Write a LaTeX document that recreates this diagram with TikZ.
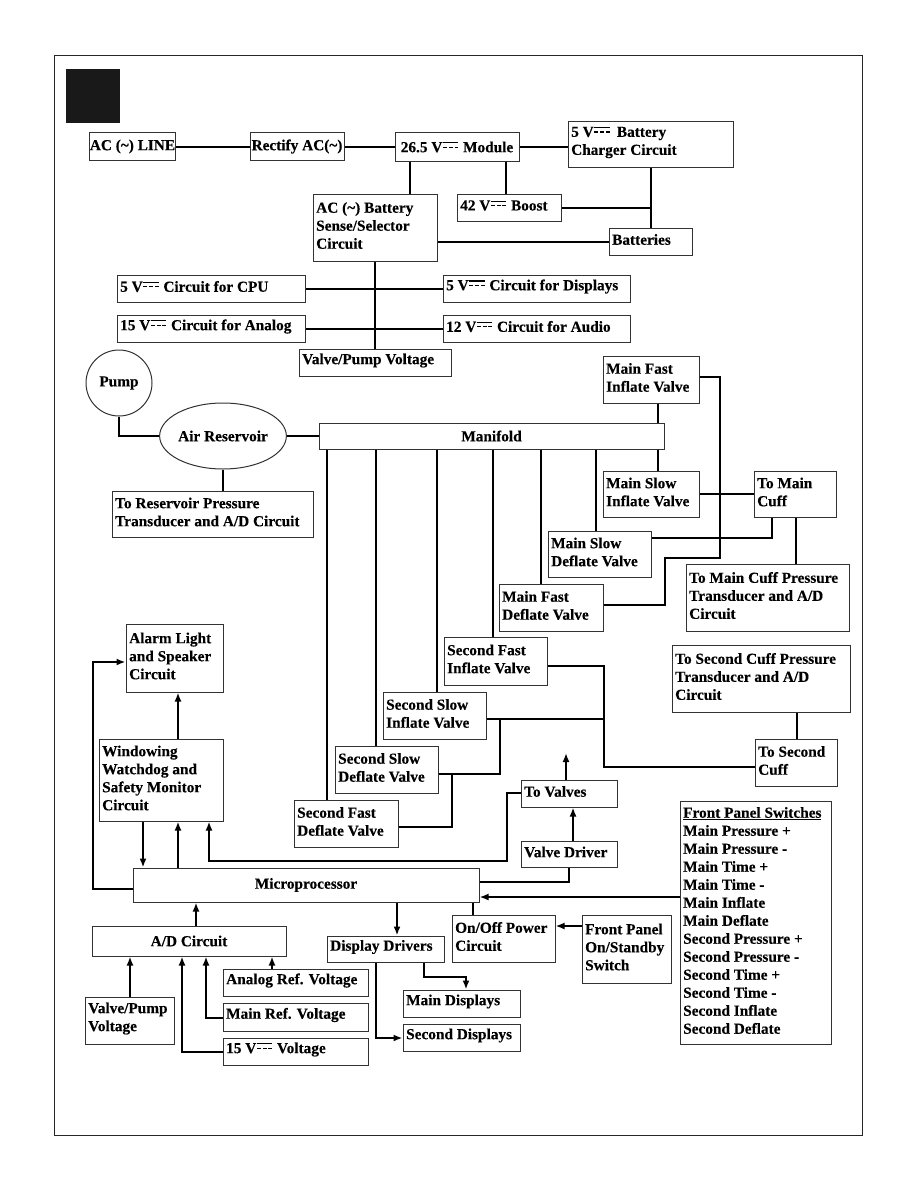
\documentclass[tikz,border=0pt]{standalone}
\usepackage{fontspec}
\setmainfont{Liberation Serif}[BoldFeatures={FakeBold=0.25}]
\usetikzlibrary{arrows.meta,shapes.geometric}
\newcommand{\dgfont}{\fontsize{15.3}{18}\selectfont\bfseries}
\newcommand{\dcs}{\kern0.05em\raisebox{0.28em}{\vbox{\hrule width 1em height 0.07em \kern 0.22em \hbox to 1em{\vrule width 0.26em height 0.07em \hfil \vrule width 0.26em height 0.07em \hfil \vrule width 0.26em height 0.07em}}}\kern0.05em}
% box with left-aligned text: name, x1, y1, x2, y2, text
\newcommand{\bx}[6]{%
  \node[box, minimum width={#4-#2}, minimum height={#5-#3}] (#1) at ({(#2+#4)/2},{(#3+#5)/2}) {};
  \node[txt] (#1-t) at (#1.west) {#6};}
% box with centred text
\newcommand{\bxc}[6]{%
  \node[box, font=\dgfont, minimum width={#4-#2}, minimum height={#5-#3}] (#1) at ({(#2+#4)/2},{(#3+#5)/2}) {#6};}
\tikzset{
  box/.style={draw=black!80, line width=1pt, fill=white, inner sep=0pt},
  txt/.style={anchor=west, yshift=2pt, inner xsep=3.5pt, inner ysep=0pt, align=left, font=\dgfont},
  conn/.style={line width=2pt, black},
  arr/.style={conn, -{Latex[length=9pt,width=7pt]}},
}
\begin{document}
\begin{tikzpicture}[x=1pt,y=-1pt]
\useasboundingbox (0,0) rectangle (918,1188);
\draw[line width=0.8pt, black!85] (54,55) rectangle (862,1135);
\fill[black!90] (66,69) rectangle (120,123);

% ---------- power section ----------
\bxc{acline}{91}{133}{174}{160}{AC (\textasciitilde) LINE}
\bxc{rectify}{250}{133}{344}{160}{Rectify AC(\textasciitilde)}
\bxc{module}{395}{133}{519}{161}{26.5 V\dcs{} Module}
\bx{charger}{568}{122}{733}{167}{5 V\dcs\ \,Battery\\Charger Circuit}
\bx{boost}{457}{194}{561}{221}{42 V\dcs{} Boost}
\bx{batteries}{609}{228}{692}{255}{Batteries}
\bx{sense}{313}{194}{437}{261}{AC (\textasciitilde) Battery\\Sense/Selector\\Circuit}
\bx{cpu5}{117}{275}{305}{302}{5 V\dcs{} Circuit for CPU}
\bx{disp5}{443}{275}{630}{302}{5 V\dcs{} Circuit for Displays}
\bx{analog15}{117}{315}{305}{342}{15 V\dcs{} Circuit for Analog}
\bx{audio12}{443}{315}{630}{342}{12 V\dcs{} Circuit for Audio}
\bx{vpv}{299}{349}{451}{376}{Valve/Pump Voltage}

% ---------- pneumatic section ----------
\node[circle, draw=black!80, line width=1pt, fill=white, minimum size=66pt, inner sep=0pt, font=\dgfont] (pump) at (119,383) {Pump};
\node[ellipse, draw=black!80, line width=1pt, fill=white, minimum width=124pt, minimum height=66pt, inner sep=0pt, font=\dgfont] (res) at (223,436) {Air Reservoir};
\bxc{manifold}{319}{423}{664}{449}{Manifold}
\bx{rpt}{112}{491}{313}{537}{To Reservoir Pressure\\Transducer and A/D Circuit}
\bx{mfi}{603}{356}{699}{403}{Main Fast\\Inflate Valve}
\bx{msi}{603}{471}{699}{517}{Main Slow\\Inflate Valve}
\bx{tmc}{754}{471}{836}{517}{To Main\\Cuff}
\bx{msd}{548}{531}{651}{577}{Main Slow\\Deflate Valve}
\bx{mfd}{499}{584}{603}{631}{Main Fast\\Deflate Valve}
\bx{mcpt}{686}{564}{849}{631}{To Main Cuff Pressure\\Transducer and A/D\\Circuit}
\bx{sfi}{444}{637}{547}{685}{Second Fast\\Inflate Valve}
\bx{ssi}{383}{692}{486}{739}{Second Slow\\Inflate Valve}
\bx{ssd}{335}{746}{438}{793}{Second Slow\\Deflate Valve}
\bx{sfd}{294}{800}{398}{847}{Second Fast\\Deflate Valve}
\bx{tscpt}{672}{645}{850}{712}{To Second Cuff Pressure\\Transducer and A/D\\Circuit}
\bx{tsc}{755}{739}{837}{786}{To Second\\Cuff}

% ---------- control section ----------
\bx{alarm}{126}{624}{223}{692}{Alarm Light\\and Speaker\\Circuit}
\bx{wd}{99}{739}{223}{821}{Windowing\\Watchdog and\\Safety Monitor\\Circuit}
\bx{tovalves}{521}{780}{617}{807}{To Valves}
\bx{vdriver}{521}{841}{617}{867}{Valve Driver}
\bxc{micro}{133}{868}{479}{902}{Microprocessor}
\bxc{ad}{92}{926}{286}{956}{A/D Circuit}
\bx{dd}{327}{936}{444}{962}{Display Drivers}
\bx{onoff}{452}{915}{555}{962}{On/Off Power\\Circuit}
\bx{fpsw}{582}{915}{671}{983}{Front Panel\\On/Standby\\Switch}
\bx{fps}{680}{801}{831}{1044}{\underline{Front Panel Switches}\\Main Pressure +\\Main Pressure -\\Main Time +\\Main Time -\\Main Inflate\\Main Deflate\\Second Pressure +\\Second Pressure -\\Second Time +\\Second Time -\\Second Inflate\\Second Deflate}
\bx{maind}{403}{990}{520}{1017}{Main Displays}
\bx{secd}{403}{1024}{520}{1051}{Second Displays}
\bx{aref}{223}{969}{368}{996}{Analog Ref. Voltage}
\bx{mref}{223}{1003}{368}{1031}{Main Ref. Voltage}
\bx{v15}{223}{1038}{368}{1065}{15 V\dcs{} Voltage}
\bx{vpv2}{85}{997}{174}{1044}{Valve/Pump\\Voltage}

% junction / free-end coordinates
\coordinate (j1) at (604,719);
\coordinate (tvup) at (566,753);

% ---------- power connectors ----------
\draw[conn] (acline.east) -- (rectify.west);
\draw[conn] (rectify.east) -- (rectify.east -| module.west);
\draw[conn] (module.east) -- (module.east -| charger.west);
\draw[conn] (506,0 |- module.south) -- (506,0 |- boost.north);
\draw[conn] (410,0 |- module.south) -- (410,0 |- sense.north);
\draw[conn] (charger.south -| 651,0) -- (batteries.north -| 651,0);
\draw[conn] (boost.east) -- (boost.east -| 651,0);
\draw[conn] (sense.east |- 0,242) -- (batteries.west |- 0,242);
\draw[conn] (375,0 |- sense.south) -- (375,0 |- vpv.north);
\draw[conn] (cpu5.east) -- (disp5.west);
\draw[conn] (analog15.east) -- (audio12.west);

% ---------- pneumatic connectors ----------
\draw[conn] (pump.south) |- (res.west);
\draw[conn] (res.east) -- (res.east -| manifold.west);
\draw[conn] (res.south) -- (res.south |- rpt.north);
\draw[conn] (658,0 |- mfi.south) -- (658,0 |- manifold.north);
\draw[conn] (658,0 |- manifold.south) -- (658,0 |- msi.north);
\draw[conn] (msi.east) -- (msi.east -| tmc.west);
\draw[conn] (596,0 |- manifold.south) -- (596,0 |- msd.north);
\draw[conn] (msd.east |- 0,538) -| (772,0 |- tmc.south);
\draw[conn] (tmc.south -| 796,0) -- (mcpt.north -| 796,0);
\draw[conn] (541,0 |- manifold.south) -- (541,0 |- mfd.north);
\draw[conn] (mfi.east |- 0,377) -| (720,558) -| (665,605) -- (mfd.east |- 0,605);
\draw[conn] (493,0 |- manifold.south) -- (493,0 |- sfi.north);
\draw[conn] (437,0 |- manifold.south) -- (437,0 |- ssi.north);
\draw[conn] (376,0 |- manifold.south) -- (376,0 |- ssd.north);
\draw[conn] (327,0 |- manifold.south) -- (327,0 |- sfd.north);
\draw[conn] (sfi.east |- 0,666) -| (604,767) -- (tsc.west |- 0,767);
\draw[conn] (ssi.east |- j1) -- (j1);
\draw[conn] (ssd.east |- 0,774) -| (500,0 |- j1);
\draw[conn] (sfd.east |- 0,827) -| (452,774);
\draw[conn] (tsc.north -| 797,0) -- (tscpt.south -| 797,0);

% ---------- control connectors ----------
\draw[arr] (178,0 |- wd.north) -- (178,0 |- alarm.south);
\draw[arr] (143,0 |- wd.south) -- (143,0 |- micro.north);
\draw[arr] (178,0 |- micro.north) -- (178,0 |- wd.south);
\draw[arr] (tovalves.west |- 0,793) -| (507,861) -| (209,0 |- wd.south);
\draw[arr] (micro.west |- 0,889) -| (93,662) -- (alarm.west |- 0,662);
\draw[conn] (micro.east |- 0,882) -| (569,0 |- vdriver.south);
\draw[arr] (573,0 |- vdriver.north) -- (573,0 |- tovalves.south);
\draw[arr] (tovalves.north -| tvup) -- (tvup);
\draw[arr] (fps.west |- 0,897) -- (micro.east |- 0,897);
\draw[conn] (473,0 |- onoff.north) -- (473,0 |- micro.south);
\draw[arr] (fpsw.west |- 0,926) -- (onoff.east |- 0,926);
\draw[arr] (196,0 |- ad.north) -- (196,0 |- micro.south);
\draw[arr] (397,0 |- micro.south) -- (397,0 |- dd.north);
\draw[arr] (424,0 |- dd.south) |- (466,977) -- (466,0 |- maind.north);
\draw[arr] (376,0 |- dd.south) |- (secd.west |- 0,1038);
\draw[arr] (272,0 |- aref.north) -- (272,0 |- ad.south);
\draw[arr] (mref.west |- 0,1018) -| (206,0 |- ad.south);
\draw[arr] (v15.west |- 0,1052) -| (182,0 |- ad.south);
\draw[arr] (130,0 |- vpv2.north) -- (130,0 |- ad.south);
\end{tikzpicture}
\end{document}
